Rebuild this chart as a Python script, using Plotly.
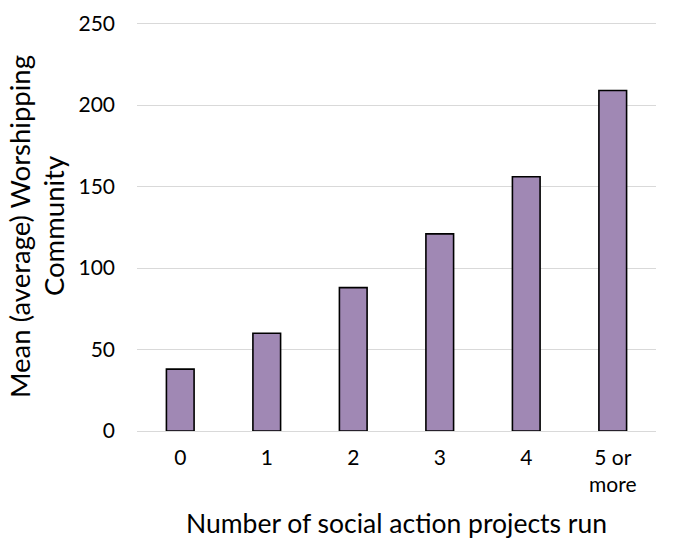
import plotly.graph_objects as go

categories = ["0", "1", "2", "3", "4", "5 or<br>more"]
values = [38, 60, 88, 121, 156, 209]
y_ticks = [0, 50, 100, 150, 200, 250]
x_title = "Number of social action projects run"
y_title_lines = ["Mean (average) Worshipping", "Community"]

FONT = "Lato"

fig = go.Figure()
fig.add_trace(go.Bar(
    x=categories,
    y=values,
    width=0.32,
    marker=dict(color="#A088B4", line=dict(color="#000000", width=1.6)),
))

fig.update_layout(
    width=676,
    height=542,
    margin=dict(l=137, r=20, t=22, b=111, autoexpand=False),
    paper_bgcolor="white",
    plot_bgcolor="white",
    showlegend=False,
    font=dict(family=FONT, color="#000000", size=21),
)
fig.update_xaxes(
    showgrid=False,
    showline=False,
    zeroline=False,
    ticks="",
    automargin=False,
    tickfont=dict(size=21),
    ticklabelstandoff=12,
)
fig.update_yaxes(
    range=[0, 251],
    tickvals=y_ticks,
    showgrid=True,
    gridcolor="#D9D9D9",
    gridwidth=1.3,
    zeroline=True,
    zerolinecolor="#D9D9D9",
    zerolinewidth=1.3,
    showline=False,
    ticks="",
    automargin=False,
    tickfont=dict(size=21),
    ticklabelstandoff=21,
)

# axis titles as annotations for exact placement
fig.add_annotation(
    text=x_title, xref="paper", yref="paper", x=0.5, y=-0.225,
    xanchor="center", yanchor="middle", showarrow=False,
    font=dict(family=FONT, size=26.5, color="#000000"),
)
fig.add_annotation(
    text=y_title_lines[0], xref="paper", yref="paper", x=-0.2275, y=0.501,
    xanchor="center", yanchor="middle", showarrow=False, textangle=-90,
    font=dict(family=FONT, size=27.5, color="#000000"),
)
fig.add_annotation(
    text=y_title_lines[1], xref="paper", yref="paper", x=-0.1618, y=0.501,
    xanchor="center", yanchor="middle", showarrow=False, textangle=-90,
    font=dict(family=FONT, size=27.5, color="#000000"),
)

# remove the browser's default 8px page margin so the figure fills the window
fig.write_html(
    "out.html",
    config={"displayModeBar": False},
    post_script="document.body.style.margin='0px';",
)
